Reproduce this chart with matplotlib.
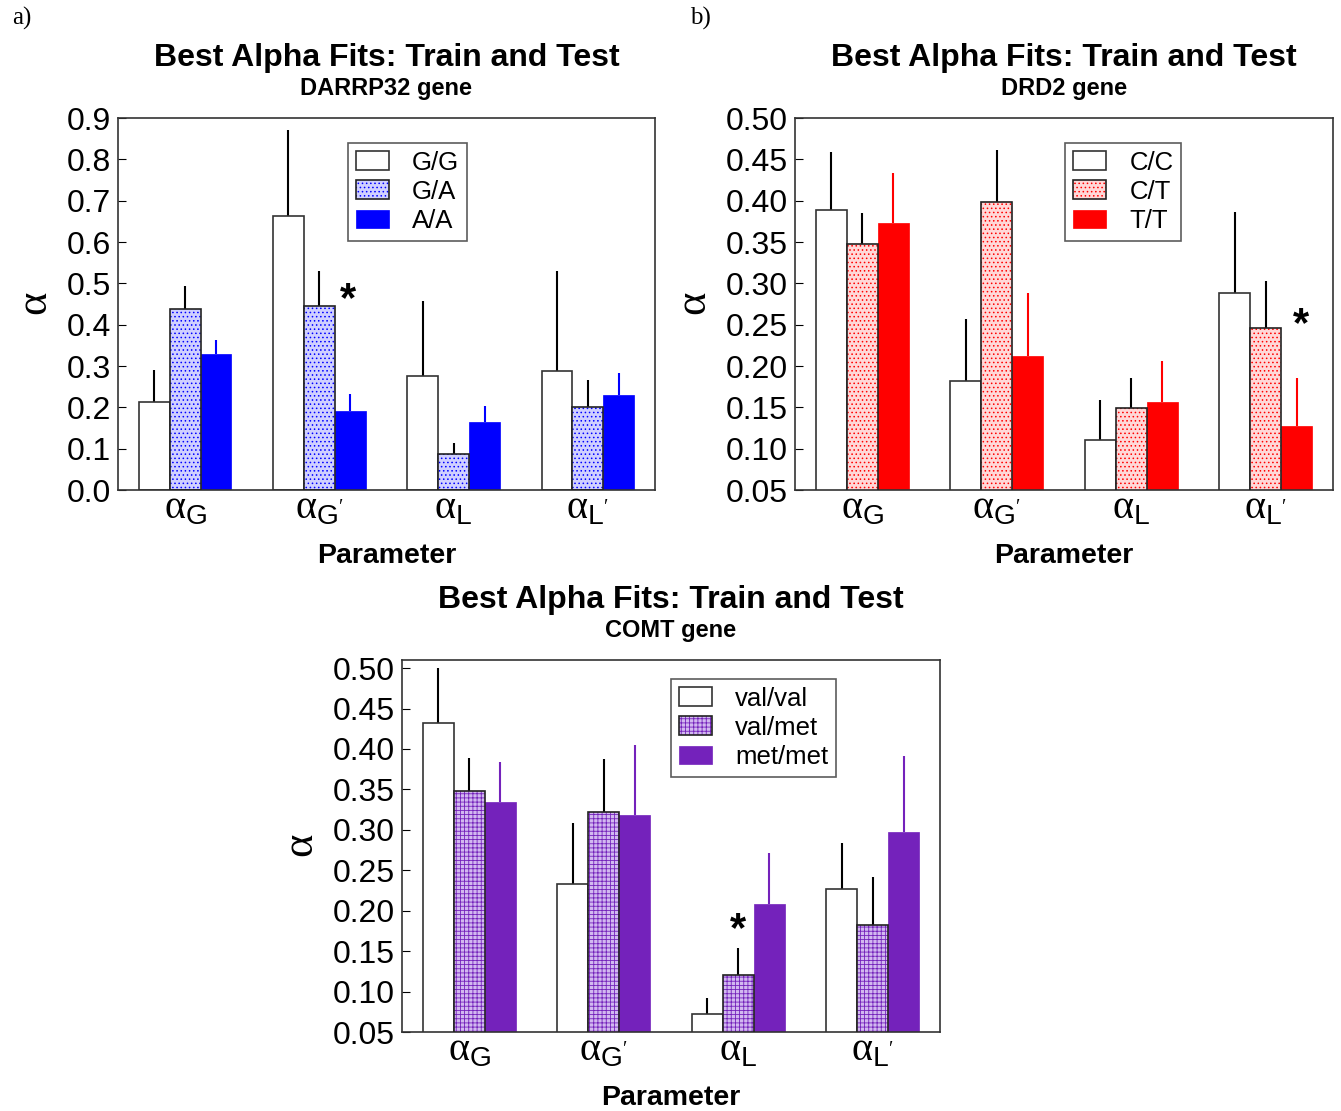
import numpy as np
import matplotlib
matplotlib.use('Agg')
import matplotlib.pyplot as plt

plt.rcParams['font.family'] = ['Liberation Sans', 'DejaVu Sans']
plt.rcParams['mathtext.fontset'] = 'custom'
plt.rcParams['mathtext.rm'] = 'Liberation Serif'
plt.rcParams['mathtext.sf'] = 'Liberation Sans'
plt.rcParams['hatch.linewidth'] = 0.6

params = [r'$\mathrm{\alpha}_{\mathsf{G}}$', r"$\mathrm{\alpha}_{\mathsf{G}'}$",
          r'$\mathrm{\alpha}_{\mathsf{L}}$', r"$\mathrm{\alpha}_{\mathsf{L}'}$"]

# DARRP32 gene
darrp_groups = ['G/G', 'G/A', 'A/A']
darrp_vals = [[0.213, 0.663, 0.276, 0.288],
              [0.438, 0.445, 0.087, 0.201],
              [0.329, 0.191, 0.165, 0.230]]
darrp_tops = [[0.290, 0.871, 0.457, 0.530],
              [0.494, 0.530, 0.114, 0.266],
              [0.363, 0.232, 0.203, 0.283]]

# DRD2 gene
drd2_groups = ['C/C', 'C/T', 'T/T']
drd2_vals = [[0.389, 0.182, 0.110, 0.288],
             [0.348, 0.398, 0.149, 0.246],
             [0.373, 0.212, 0.156, 0.127]]
drd2_tops = [[0.459, 0.257, 0.159, 0.386],
             [0.385, 0.461, 0.185, 0.303],
             [0.433, 0.288, 0.206, 0.185]]

# COMT gene
comt_groups = ['val/val', 'val/met', 'met/met']
comt_vals = [[0.432, 0.233, 0.072, 0.227],
             [0.348, 0.322, 0.120, 0.182],
             [0.334, 0.318, 0.208, 0.297]]
comt_tops = [[0.500, 0.308, 0.092, 0.284],
             [0.389, 0.388, 0.154, 0.242],
             [0.384, 0.405, 0.271, 0.391]]


def panel(ax, groups, vals, tops, color, light, hatch, ylim, yticks, yfmt,
          gene, legend_at, star):
    x = np.arange(len(params))
    w = 0.23
    handles = []
    for i, g in enumerate(groups):
        xs = x + (i - 1) * w
        v = np.array(vals[i])
        err = np.array(tops[i]) - v
        if i == 0:
            b = ax.bar(xs, v, w, facecolor='white', edgecolor='#333333',
                       linewidth=1.2, zorder=2)
            h = b[0]
            ecol = 'black'
        elif i == 1:
            b = ax.bar(xs, v, w, facecolor=light, edgecolor=color, hatch=hatch,
                       linewidth=0, zorder=2)
            o = ax.bar(xs, v, w, fill=False, edgecolor='#222222',
                       linewidth=1.2, zorder=3)
            h = (b[0], o[0])
            ecol = 'black'
        else:
            b = ax.bar(xs, v, w, facecolor=color, edgecolor=color,
                       linewidth=0.5, zorder=2)
            h = b[0]
            ecol = color
        ax.errorbar(xs, v, yerr=[np.zeros_like(err), err], fmt='none',
                    ecolor=ecol, elinewidth=1.5, capsize=0, zorder=1)
        handles.append(h)

    ax.set_xlim(-0.5, 3.5)
    ax.set_ylim(*ylim)
    ax.set_yticks(yticks)
    ax.set_yticklabels([yfmt.format(t) for t in yticks])
    ax.set_xticks(x)
    ax.set_xticklabels(params, fontsize=29)
    ax.tick_params(axis='y', direction='in', length=6, labelsize=23, pad=5,
                   right=False)
    ax.tick_params(axis='x', direction='in', length=0, pad=-1, top=True)
    for s in ax.spines.values():
        s.set_color('#333333')
        s.set_linewidth(1.2)
    ax.set_ylabel(r'$\mathrm{\alpha}$', fontsize=32, labelpad=8)
    ax.set_xlabel('Parameter', fontsize=20.5, fontweight='bold', labelpad=12)
    ax.text(0.5, 1.162, 'Best Alpha Fits: Train and Test', transform=ax.transAxes,
            ha='center', va='center', fontsize=23, fontweight='bold')
    ax.text(0.5, 1.078, gene, transform=ax.transAxes,
            ha='center', va='center', fontsize=17, fontweight='bold')
    leg = ax.legend(handles, groups, loc='upper left', bbox_to_anchor=legend_at,
                    borderaxespad=0, fontsize=18.5, frameon=True, fancybox=False,
                    edgecolor='#333333', handlelength=1.3, handleheight=0.75,
                    labelspacing=0.2, handletextpad=0.9, borderpad=0.3)
    leg.get_frame().set_linewidth(1.2)
    ax.text(star[0], star[1], '*', fontsize=30, fontweight='bold',
            ha='center', va='center')


fig = plt.figure(figsize=(13.41, 11.11), dpi=100)
W, H = 1341, 1111
ax_a = fig.add_axes([118 / W, 1 - 490 / H, 537 / W, 372 / H])
ax_b = fig.add_axes([795 / W, 1 - 490 / H, 538 / W, 372 / H])
ax_c = fig.add_axes([402 / W, 1 - 1032 / H, 538 / W, 372 / H])

panel(ax_a, darrp_groups, darrp_vals, darrp_tops, '#0000ff', '#d0d0ff', '....',
      (0, 0.9), np.round(np.arange(0, 0.91, 0.1), 2), '{:.1f}',
      'DARRP32 gene', (0.428, 0.933), (1.216, 0.46))
panel(ax_b, drd2_groups, drd2_vals, drd2_tops, '#ff0000', '#ffd8d8', '....',
      (0.05, 0.50), np.round(np.arange(0.05, 0.501, 0.05), 2), '{:.2f}',
      'DRD2 gene', (0.502, 0.933), (3.26, 0.25))
panel(ax_c, comt_groups, comt_vals, comt_tops, '#7422bb', '#d2b8f0', '++++',
      (0.05, 0.51), np.round(np.arange(0.05, 0.501, 0.05), 2), '{:.2f}',
      'COMT gene', (0.5, 0.949), (2.0, 0.176))

fig.text(12 / W, 1 - 18 / H, 'a)', fontsize=18, family='Liberation Serif',
         va='center')
fig.text(690 / W, 1 - 18 / H, 'b)', fontsize=18, family='Liberation Serif',
         va='center')

fig.savefig('out.png', dpi=100)
